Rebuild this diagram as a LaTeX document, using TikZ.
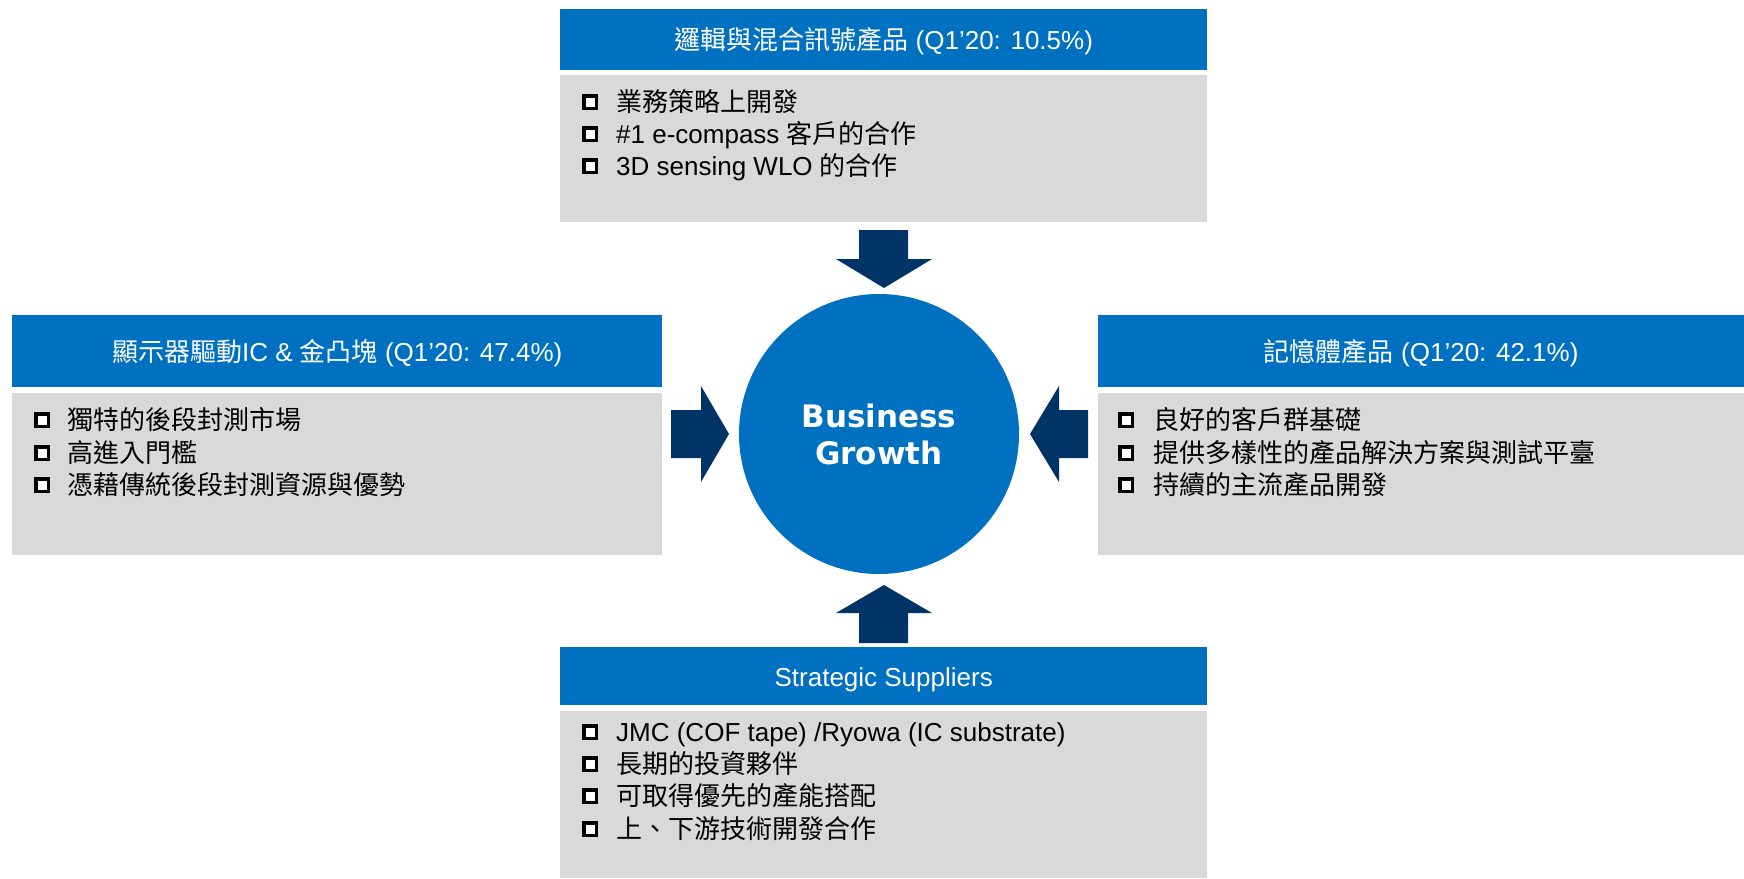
\documentclass[tikz,border=0pt]{standalone}
\usepackage{fontspec}
\setmainfont{Liberation Sans}
\newfontfamily\zhfont{Noto Sans CJK TC}
\newfontfamily\bgfont{DejaVu Sans}
\newcommand\zh[1]{{\zhfont #1}}
\definecolor{hdrblue}{HTML}{0070C0}
\definecolor{bodygray}{HTML}{D9D9D9}
\definecolor{navy}{HTML}{003366}
\tikzset{
  hdr/.style={fill=hdrblue, draw=none, inner sep=0pt, anchor=north west, text=white,
    font=\fontsize{26}{30}\selectfont, text height=20pt, text depth=0pt},
  bodybox/.style={fill=bodygray, draw=none, inner sep=0pt, anchor=north west},
  bsq/.style={draw=black, fill=white, line width=3.5pt, minimum size=12.5pt, inner sep=0pt},
  btxt/.style={anchor=base west, inner sep=0pt, text=black, font=\fontsize{26}{30}\selectfont},
  barrow/.style={fill=navy, draw=none},
}
\begin{document}
\begin{tikzpicture}[x=1pt,y=-1pt]
\useasboundingbox (0,0) rectangle (1744,878);
\fill[white] (0,0) rectangle (1744,878);

% top box
\node[hdr, minimum width=647pt, minimum height=61pt] (tophdr) at (560,9)
  {\zh{邏輯與混合訊號產品} (Q1’20: 10.5\%)};
\node[bodybox, minimum width=647pt, minimum height=147pt] (topbody) at (560,75) {};
\node[bsq] (t1s) at (590,102) {};
\node[btxt] (t1t) at (616,111.5) {\zh{業務策略上開發}};
\node[bsq] (t2s) at (590,134) {};
\node[btxt] (t2t) at (616,143.5) {\#1 e-compass \zh{客戶的合作}};
\node[bsq] (t3s) at (590,166) {};
\node[btxt] (t3t) at (616,175.5) {3D sensing WLO \zh{的合作}};

% left box
\node[hdr, minimum width=650pt, minimum height=72pt] (lefthdr) at (12,315)
  {\zh{顯示器驅動}IC \& \zh{金凸塊} (Q1’20: 47.4\%)};
\node[bodybox, minimum width=650pt, minimum height=162pt] (leftbody) at (12,393) {};
\node[bsq] (l1s) at (42,420) {};
\node[btxt] (l1t) at (67,429.5) {\zh{獨特的後段封測市場}};
\node[bsq] (l2s) at (42,453) {};
\node[btxt] (l2t) at (67,462.5) {\zh{高進入門檻}};
\node[bsq] (l3s) at (42,485) {};
\node[btxt] (l3t) at (67,494.5) {\zh{憑藉傳統後段封測資源與優勢}};

% right box
\node[hdr, minimum width=646pt, minimum height=72pt] (righthdr) at (1098,315)
  {\zh{記憶體產品} (Q1’20: 42.1\%)};
\node[bodybox, minimum width=646pt, minimum height=162pt] (rightbody) at (1098,393) {};
\node[bsq] (r1s) at (1126,420) {};
\node[btxt] (r1t) at (1153,429.5) {\zh{良好的客戶群基礎}};
\node[bsq] (r2s) at (1126,453) {};
\node[btxt] (r2t) at (1153,462.5) {\zh{提供多樣性的產品解決方案與測試平臺}};
\node[bsq] (r3s) at (1126,485) {};
\node[btxt] (r3t) at (1153,494.5) {\zh{持續的主流產品開發}};

% bottom box
\node[hdr, minimum width=647pt, minimum height=58pt] (bothdr) at (560,647)
  {Strategic Suppliers};
\node[bodybox, minimum width=647pt, minimum height=167pt] (botbody) at (560,711) {};
\node[bsq] (b1s) at (590,732) {};
\node[btxt] (b1t) at (616,741.5) {JMC (COF tape) /Ryowa (IC substrate)};
\node[bsq] (b2s) at (590,764) {};
\node[btxt] (b2t) at (616,773.5) {\zh{長期的投資夥伴}};
\node[bsq] (b3s) at (590,796) {};
\node[btxt] (b3t) at (616,805.5) {\zh{可取得優先的產能搭配}};
\node[bsq] (b4s) at (590,829) {};
\node[btxt] (b4t) at (616,838.5) {\zh{上、下游技術開發合作}};

% centre circle
\node[circle, fill=hdrblue, minimum size=280pt, inner sep=0pt, text=white,
  align=center, font=\bgfont\bfseries\fontsize{31}{37}\selectfont] (core) at (879,434)
  {Business\\Growth};

% block arrows
\fill[barrow] (859,230) -- (908,230) -- (908,259) -- (932,259) -- (884,288) -- (836,259) -- (859,259) -- cycle;
\fill[barrow] (859,643) -- (908,643) -- (908,613) -- (932,613) -- (884,585) -- (836,613) -- (859,613) -- cycle;
\fill[barrow] (671,410) -- (701,410) -- (701,386) -- (729,434) -- (701,482) -- (701,458) -- (671,458) -- cycle;
\fill[barrow] (1088,410) -- (1059,410) -- (1059,386) -- (1030,434) -- (1059,482) -- (1059,458) -- (1088,458) -- cycle;
\end{tikzpicture}
\end{document}
